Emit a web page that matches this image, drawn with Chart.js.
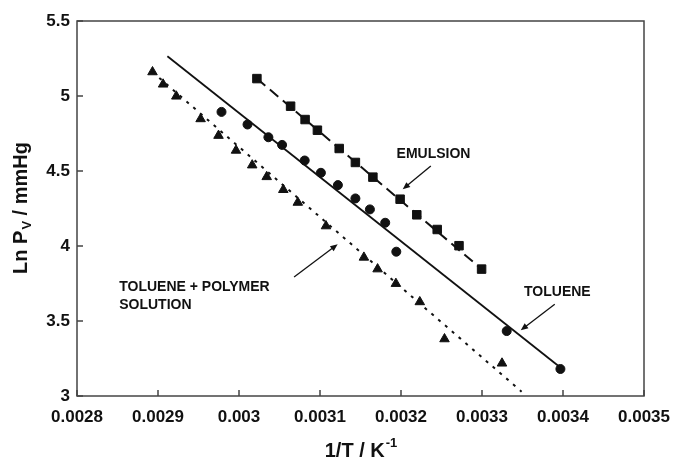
<!DOCTYPE html>
<html lang="en">
<head>
    <meta charset="UTF-8">
    <title>Ln Pv vs 1/T</title>
    <script src="https://cdn.jsdelivr.net/npm/chart.js"></script>
    <style>
        body {
            margin: 0;
            background: #fff;
        }

        .chart-container {
            position: relative;
            width: 681px;
            height: 459px;
        }
    </style>
</head>
<body>
    <div class="chart-container">
        <canvas id="chart"></canvas>
    </div>

    <script>
        // measured points (1/T in K^-1, Ln Pv)
        const emulsionX = [0.0030221, 0.0030637, 0.0030816, 0.0030968, 0.0031237, 0.0031437, 0.0031653, 0.0031989, 0.0032195, 0.0032447, 0.0032716, 0.0032995];
        const emulsionY = [5.116, 4.932, 4.843, 4.772, 4.650, 4.557, 4.459, 4.312, 4.208, 4.110, 4.002, 3.846];

        const tolueneX = [0.0029784, 0.0030105, 0.0030363, 0.0030532, 0.0030811, 0.0031011, 0.0031221, 0.0031437, 0.0031616, 0.0031805, 0.0031942, 0.0033305, 0.0033968];
        const tolueneY = [4.894, 4.810, 4.725, 4.674, 4.570, 4.488, 4.406, 4.317, 4.244, 4.155, 3.962, 3.433, 3.180];

        const polymerX = [0.0028932, 0.0029063, 0.0029226, 0.0029526, 0.0029747, 0.0029963, 0.0030163, 0.0030342, 0.0030547, 0.0030726, 0.0031074, 0.0031542, 0.0031711, 0.0031937, 0.0032232, 0.0032537, 0.0033247];
        const polymerY = [5.160, 5.078, 4.998, 4.847, 4.736, 4.637, 4.539, 4.461, 4.375, 4.290, 4.133, 3.924, 3.846, 3.749, 3.627, 3.380, 3.218];

        // fitted lines, end points
        const emulsionFitX = [0.0030221, 0.0032995];
        const emulsionFitY = [5.116, 3.846];
        const tolueneFitX = [0.0029116, 0.0033968];
        const tolueneFitY = [5.265, 3.190];
        const polymerFitX = [0.0028932, 0.0033489];
        const polymerFitY = [5.160, 3.029];

        const xTicks = [0.0028, 0.0029, 0.003, 0.0031, 0.0032, 0.0033, 0.0034, 0.0035];
        const yTicks = [3, 3.5, 4, 4.5, 5, 5.5];

        // annotation labels: text lines, anchor (left x, y of first line)
        const notes = [
            { lines: ["EMULSION"], x: 0.0031945, y: 4.611, from: [0.0032368, 4.533], to: [0.0032021, 4.378] },
            { lines: ["TOLUENE"], x: 0.0033519, y: 3.693, from: [0.0033898, 3.611], to: [0.0033478, 3.438] },
            { lines: ["TOLUENE + POLYMER", "SOLUTION"], x: 0.0028521, y: 3.727, from: [0.0030680, 3.793], to: [0.0031218, 4.011] }
        ];

        const pts = (xs, ys) => xs.map((x, i) => ({ x: x, y: ys[i] }));

        Chart.defaults.font.family = "'Liberation Sans', Arial, sans-serif";
        Chart.defaults.font.weight = "bold";
        Chart.defaults.font.size = 17;
        Chart.defaults.color = "#111";

        const frame = {
            id: "frame",
            beforeDatasetsDraw(chart) {
                const { ctx, chartArea: a, scales } = chart;
                ctx.save();
                ctx.strokeStyle = "#444";
                ctx.lineWidth = 1.5;
                ctx.strokeRect(a.left, a.top, a.right - a.left, a.bottom - a.top);
                ctx.beginPath();
                xTicks.forEach((v) => {
                    const px = scales.x.getPixelForValue(v);
                    ctx.moveTo(px, a.bottom);
                    ctx.lineTo(px, a.bottom - 6);
                });
                yTicks.forEach((v) => {
                    const py = scales.y.getPixelForValue(v);
                    ctx.moveTo(a.left, py);
                    ctx.lineTo(a.left + 6, py);
                });
                ctx.stroke();
                ctx.restore();
            },
            afterDraw(chart) {
                const { ctx, chartArea: a, scales } = chart;
                ctx.save();
                ctx.fillStyle = "#111";
                ctx.strokeStyle = "#111";

                // annotations
                ctx.font = "bold 14px 'Liberation Sans', Arial, sans-serif";
                ctx.textBaseline = "middle";
                ctx.textAlign = "left";
                notes.forEach((n) => {
                    const lx = scales.x.getPixelForValue(n.x);
                    const ly = scales.y.getPixelForValue(n.y);
                    n.lines.forEach((t, i) => ctx.fillText(t, lx, ly + i * 18.5));

                    const x1 = scales.x.getPixelForValue(n.from[0]);
                    const y1 = scales.y.getPixelForValue(n.from[1]);
                    const x2 = scales.x.getPixelForValue(n.to[0]);
                    const y2 = scales.y.getPixelForValue(n.to[1]);
                    const ang = Math.atan2(y2 - y1, x2 - x1);
                    ctx.lineWidth = 1.3;
                    ctx.beginPath();
                    ctx.moveTo(x1, y1);
                    ctx.lineTo(x2 - 5 * Math.cos(ang), y2 - 5 * Math.sin(ang));
                    ctx.stroke();
                    ctx.beginPath();
                    ctx.moveTo(x2, y2);
                    ctx.lineTo(x2 - 8 * Math.cos(ang - 0.4), y2 - 8 * Math.sin(ang - 0.4));
                    ctx.lineTo(x2 - 8 * Math.cos(ang + 0.4), y2 - 8 * Math.sin(ang + 0.4));
                    ctx.closePath();
                    ctx.fill();
                });

                // x axis title: 1/T / K^-1
                ctx.font = "bold 20px 'Liberation Sans', Arial, sans-serif";
                const main = "1/T / K";
                const supFont = "bold 13px 'Liberation Sans', Arial, sans-serif";
                const mw = ctx.measureText(main).width;
                ctx.font = supFont;
                const sw = ctx.measureText("-1").width;
                const cx = (a.left + a.right) / 2;
                let sx = cx - (mw + sw) / 2;
                ctx.font = "bold 20px 'Liberation Sans', Arial, sans-serif";
                ctx.textBaseline = "alphabetic";
                ctx.fillText(main, sx, 457);
                ctx.font = supFont;
                ctx.fillText("-1", sx + mw + 1, 447);

                // y axis title: Ln Pv / mmHg
                ctx.translate(27, (a.top + a.bottom) / 2);
                ctx.rotate(-Math.PI / 2);
                const bigFont = "bold 20px 'Liberation Sans', Arial, sans-serif";
                const subFont = "bold 13px 'Liberation Sans', Arial, sans-serif";
                ctx.font = bigFont;
                const p1 = "Ln P", p3 = " / mmHg";
                const w1 = ctx.measureText(p1).width;
                const w3 = ctx.measureText(p3).width;
                ctx.font = subFont;
                const w2 = ctx.measureText("V").width;
                let tx = -(w1 + w2 + w3) / 2;
                ctx.font = bigFont;
                ctx.fillText(p1, tx, 0);
                ctx.font = subFont;
                ctx.fillText("V", tx + w1 + 1, 4);
                ctx.font = bigFont;
                ctx.fillText(p3, tx + w1 + w2 + 1, 0);
                ctx.restore();
            }
        };

        const ctx = document.getElementById("chart").getContext("2d");
        new Chart(ctx, {
            type: "scatter",
            data: {
                datasets: [
                    {
                        label: "Emulsion fit",
                        data: pts(emulsionFitX, emulsionFitY),
                        showLine: true,
                        pointRadius: 0,
                        borderColor: "#111",
                        borderWidth: 2,
                        borderDash: [11, 6],
                    },
                    {
                        label: "Toluene fit",
                        data: pts(tolueneFitX, tolueneFitY),
                        showLine: true,
                        pointRadius: 0,
                        borderColor: "#111",
                        borderWidth: 1.8,
                    },
                    {
                        label: "Polymer fit",
                        data: pts(polymerFitX, polymerFitY),
                        showLine: true,
                        pointRadius: 0,
                        borderColor: "#111",
                        borderWidth: 2,
                        borderDash: [3, 6],
                    },
                    {
                        label: "Emulsion",
                        data: pts(emulsionX, emulsionY),
                        pointStyle: "rect",
                        pointRadius: 6,
                        backgroundColor: "#111",
                        borderColor: "#111",
                    },
                    {
                        label: "Toluene",
                        data: pts(tolueneX, tolueneY),
                        pointStyle: "circle",
                        pointRadius: 4.5,
                        backgroundColor: "#111",
                        borderColor: "#111",
                    },
                    {
                        label: "Toluene + polymer solution",
                        data: pts(polymerX, polymerY),
                        pointStyle: "triangle",
                        pointRadius: 5.5,
                        backgroundColor: "#111",
                        borderColor: "#111",
                    },
                ],
            },
            options: {
                responsive: true,
                maintainAspectRatio: false,
                animation: false,
                layout: {
                    padding: { left: 0, top: 21, right: 26, bottom: 0 },
                },
                plugins: {
                    legend: { display: false },
                    tooltip: { enabled: false },
                },
                scales: {
                    x: {
                        type: "linear",
                        min: 0.0028,
                        max: 0.0035,
                        afterBuildTicks: (scale) => {
                            scale.ticks = xTicks.map((v) => ({ value: v }));
                        },
                        afterFit: (scale) => {
                            scale.height = 63;
                        },
                        grid: { display: false, drawTicks: false },
                        border: { display: false },
                        ticks: {
                            padding: 11,
                            maxRotation: 0,
                            callback: (v) => parseFloat(v.toFixed(4)).toString(),
                        },
                    },
                    y: {
                        type: "linear",
                        min: 3,
                        max: 5.5,
                        afterBuildTicks: (scale) => {
                            scale.ticks = yTicks.map((v) => ({ value: v }));
                        },
                        afterFit: (scale) => {
                            scale.width = 77;
                        },
                        grid: { display: false, drawTicks: false },
                        border: { display: false },
                        ticks: {
                            padding: 7,
                            callback: (v) => v.toString(),
                        },
                    },
                },
            },
            plugins: [frame],
        });
    </script>
</body>
</html>
